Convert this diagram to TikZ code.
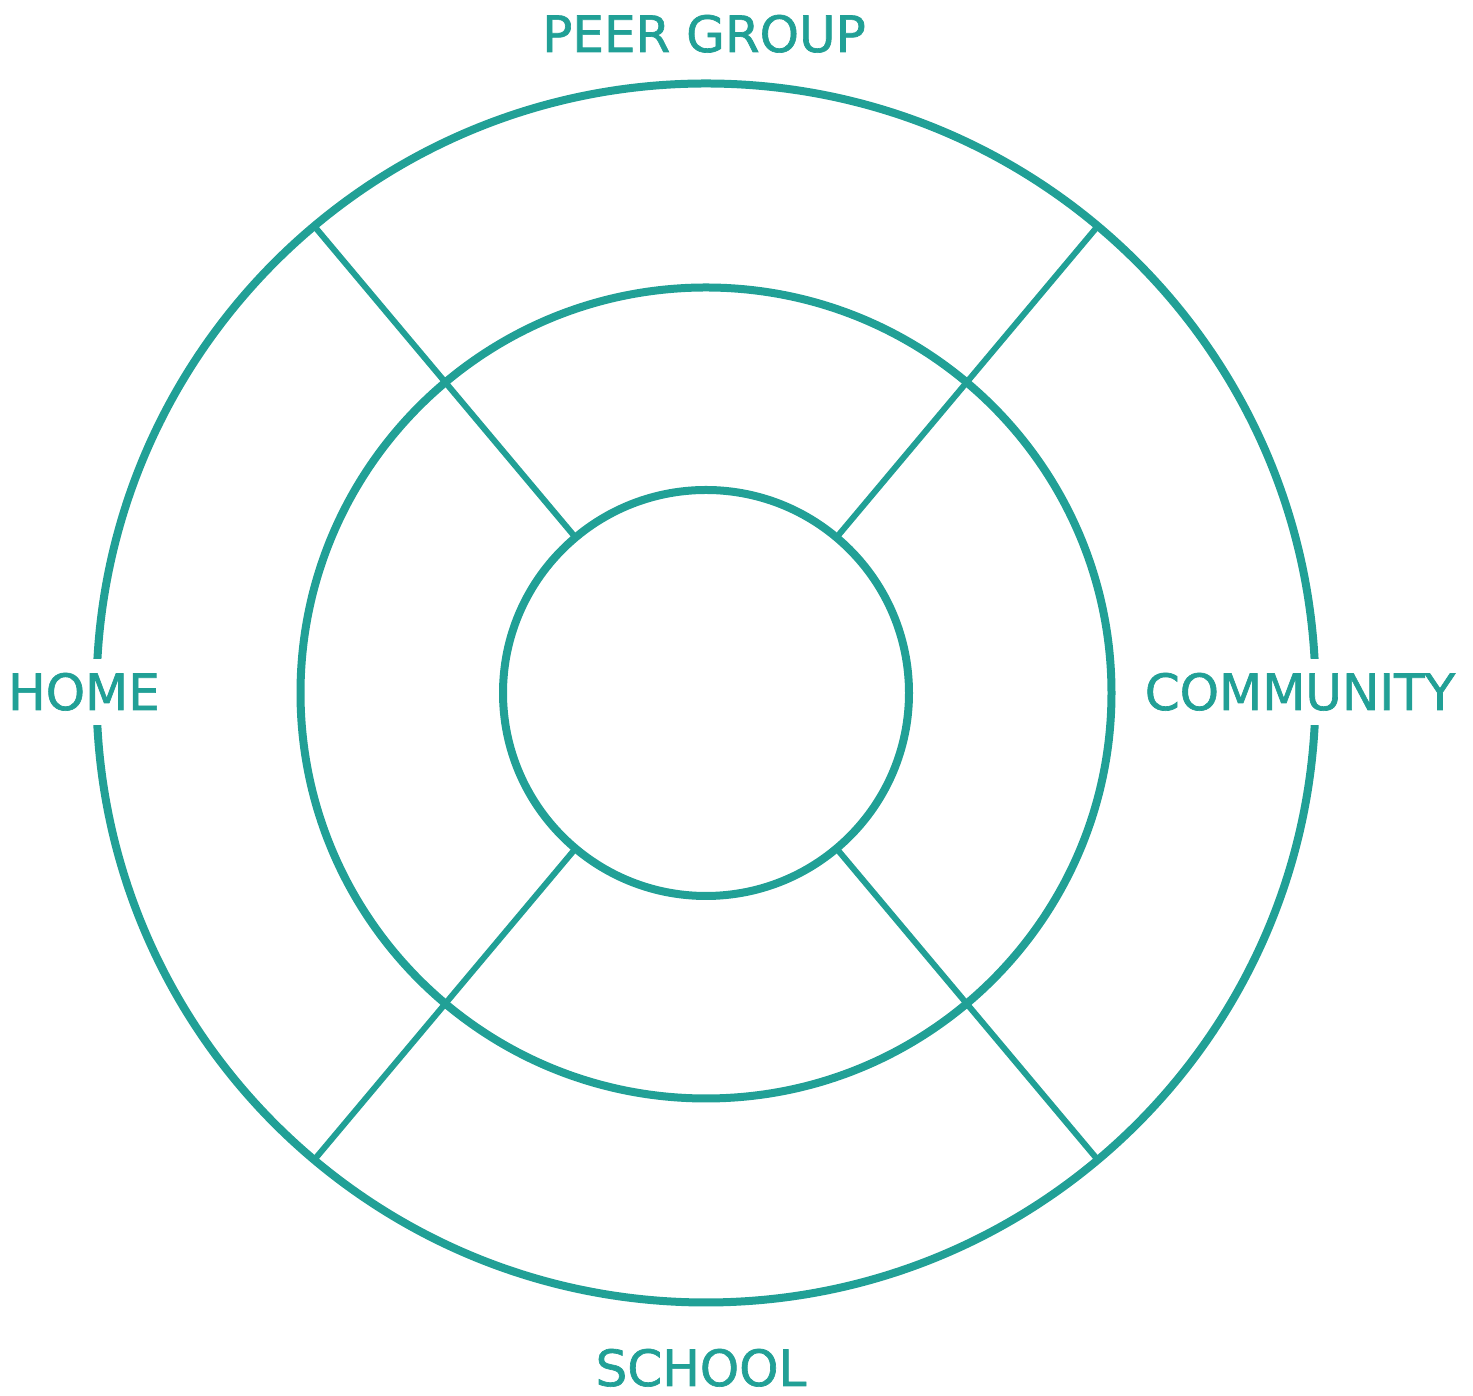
\documentclass[tikz,border=0pt]{standalone}
\usepackage{fontspec}
\setmainfont{DejaVu Sans}
\newfontfamily\lblfont{DejaVu Sans}[FakeBold=1.3]
\definecolor{teal}{RGB}{33,160,150}
\begin{document}
\begin{tikzpicture}[x=1pt,y=1pt,
  ring/.style={circle,draw=teal,line width=8pt,inner sep=0pt,outer sep=0pt},
  spoke/.style={draw=teal,line width=6pt},
  lbl/.style={text=teal,font=\lblfont\fontsize{50}{60}\selectfont,inner sep=0pt,text height=36pt,text depth=0pt}]
\useasboundingbox (0,0) rectangle (1473,1396);
\coordinate (c) at (706,703);
\node[ring,minimum size=1219pt] (outer) at (c) {};
\node[ring,minimum size=811pt] (middle) at (c) {};
\node[ring,minimum size=406pt] (inner) at (c) {};
\foreach \a in {50,130,230,310}{
  \draw[spoke] (inner.\a) -- (outer.\a);
}
\node[lbl,fill=white,minimum height=66pt,inner xsep=6pt] (home) at (84,704) {HOME};
\node[lbl,fill=white,minimum height=66pt,inner xsep=6pt] (community) at (1300,704) {COMMUNITY};
\node[lbl] (peer) at (704,1362) {PEER GROUP};
\node[lbl] (school) at (701,28) {SCHOOL};
\end{tikzpicture}
\end{document}
